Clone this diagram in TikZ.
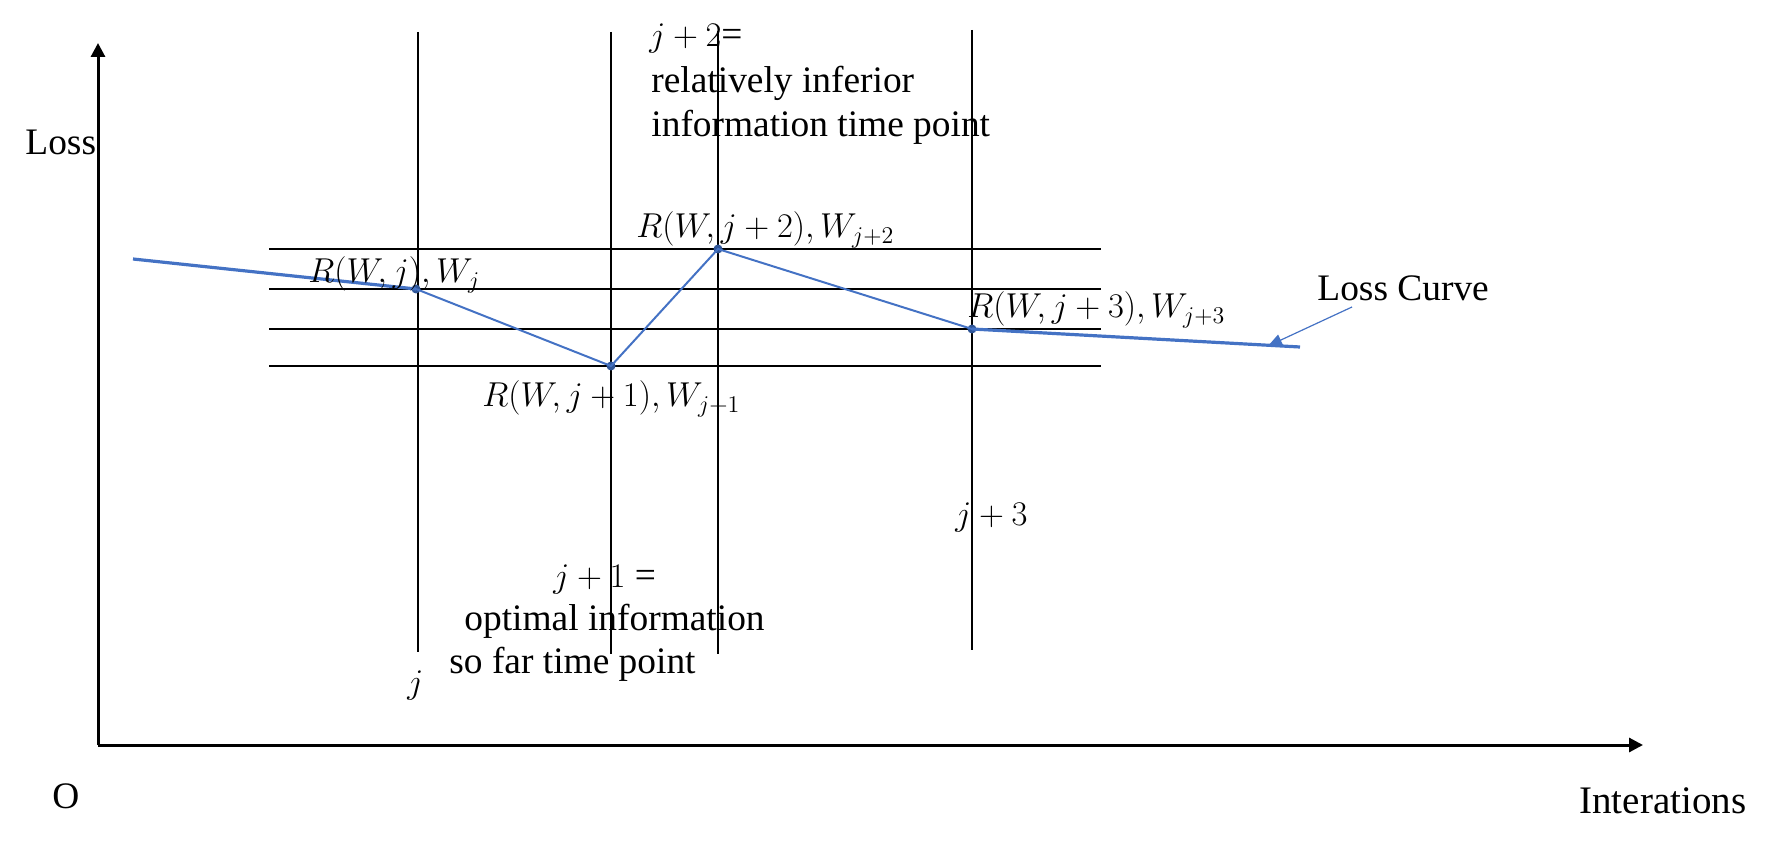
\documentclass[tikz,border=0pt]{standalone}
\usepackage{fontspec}
\setmainfont{Liberation Serif}
\usetikzlibrary{arrows.meta}
\definecolor{curveblue}{HTML}{4472C4}
\definecolor{dotblue}{HTML}{2F5597}
\begin{document}
\begin{tikzpicture}[x=0.5pt,y=-0.5pt,
  axisline/.style={line width=1.5pt,-{Triangle[length=7pt,width=7pt]}},
  gridline/.style={line width=1pt,black},
  thickblue/.style={line width=1.6pt,curveblue},
  thinblue/.style={line width=1pt,curveblue},
  pointer/.style={line width=0.6pt,curveblue,-{Triangle[length=7pt,width=6pt]}},
  dot/.style={circle,fill=dotblue,inner sep=0pt,minimum size=4.5pt},
  txt/.style={inner sep=0pt,font=\fontsize{18.7}{22}\selectfont},
  mlbl/.style={inner sep=0pt,font=\fontsize{17}{20}\selectfont,anchor=base west}]
\useasboundingbox (0,0) rectangle (1777,844);
% axes
\coordinate (origin) at (98,745);
\coordinate (ytop) at (98,43);
\coordinate (xend) at (1643,745);
\draw[axisline] (origin) -- (ytop);
\draw[axisline] (origin) -- (xend);
\node[txt,anchor=base west] (losslabel) at (25,155) {Loss};
\node[txt,anchor=base west] (olabel) at (52,808) {O};
\node[txt,anchor=base west,font=\fontsize{19.5}{22}\selectfont] (xlabel) at (1579,813) {Interations};
% vertical lines
\coordinate (v0t) at (418,32);  \coordinate (v0b) at (418,652);
\coordinate (v1t) at (611,32);  \coordinate (v1b) at (611,654);
\coordinate (v2t) at (718,31);  \coordinate (v2b) at (718,654);
\coordinate (v3t) at (972,30);  \coordinate (v3b) at (972,650);
\draw[gridline] (v0t) -- (v0b);
\draw[gridline] (v1t) -- (v1b);
\draw[gridline] (v2t) -- (v2b);
\draw[gridline] (v3t) -- (v3b);
% horizontal lines
\coordinate (h0l) at (269,249); \coordinate (h0r) at (1101,249);
\coordinate (h1l) at (269,289); \coordinate (h1r) at (1101,289);
\coordinate (h2l) at (269,329); \coordinate (h2r) at (1101,329);
\coordinate (h3l) at (269,366); \coordinate (h3r) at (1101,366);
\draw[gridline] (h0l) -- (h0r);
\draw[gridline] (h1l) -- (h1r);
\draw[gridline] (h2l) -- (h2r);
\draw[gridline] (h3l) -- (h3r);
% loss curve
\coordinate (p0) at (133,259);
\coordinate (pend) at (1300,347);
\node[dot] (pj) at (416,289) {};
\node[dot] (pj1) at (611,366) {};
\node[dot] (pj2) at (718,249) {};
\node[dot] (pj3) at (972,329) {};
\draw[thickblue] (p0) -- (pj.center);
\draw[thinblue] (pj.center) -- (pj1.center) -- (pj2.center) -- (pj3.center);
\draw[thickblue] (pj3.center) -- (pend);
% loss curve label
\node[txt,anchor=base west] (curvelabel) at (1317,301) {Loss Curve};
\coordinate (ptrstart) at (1352,307);
\coordinate (ptrtip) at (1268,346);
\draw[pointer] (ptrstart) -- (ptrtip);
% point labels
\node[mlbl] (lj) at (308,283) {$R(W,j),W_j$};
\node[mlbl] (lj1) at (482,407) {$R(W,j+1),W_{j+1}$};
\node[mlbl] (lj2) at (636,238) {$R(W,j+2),W_{j+2}$};
\node[mlbl] (lj3) at (967,318) {$R(W,j+3),W_{j+3}$};
% time point texts
\node[txt,anchor=base west] (t2a) at (649,47) {$j+2$=};
\node[txt,anchor=base west] (t2b) at (651,93) {relatively inferior};
\node[txt,anchor=base west] (t2c) at (651,137) {information time point};
\node[txt,anchor=base west] (t1a) at (553,587) {$j+1$ =};
\node[txt,anchor=base west] (t1b) at (464,630) {optimal information};
\node[txt,anchor=base west] (t1c) at (449,673) {so far time point};
\node[txt,anchor=base west] (tj) at (407,693) {$j$};
\node[txt,anchor=base west] (tj3) at (955,525) {$j+3$};
\end{tikzpicture}
\end{document}
